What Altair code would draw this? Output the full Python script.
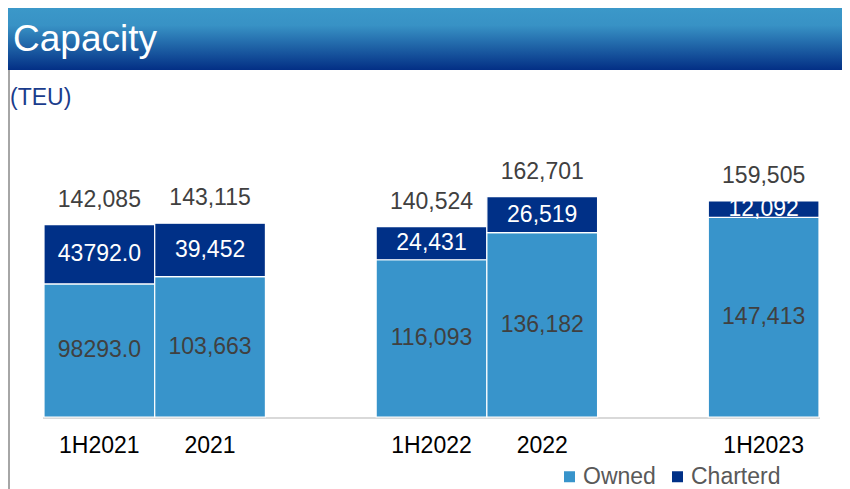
import altair as alt
import pandas as pd

# ---- data ----
slots = ["1H2021", "2021", "gap1", "1H2022", "2022", "gap2", "1H2023"]
categories = ["1H2021", "2021", "1H2022", "2022", "1H2023"]
owned = [98293, 103663, 116093, 136182, 147413]
chartered = [43792, 39452, 24431, 26519, 12092]
totals = [142085, 143115, 140524, 162701, 159505]
owned_labels = ["98293.0", "103,663", "116,093", "136,182", "147,413"]
chartered_labels = ["43792.0", "39,452", "24,431", "26,519", "12,092"]
total_labels = ["142,085", "143,115", "140,524", "162,701", "159,505"]
series = ["Owned", "Charterd"]
colors = ["#3894cb", "#003087"]
label_colors = ["#404040", "#ffffff"]

rows = []
for i, c in enumerate(categories):
    rows.append(dict(cat=c, series=series[0], start=0, end=owned[i],
                     mid=owned[i] / 2, label=owned_labels[i], lcolor=label_colors[0]))
    rows.append(dict(cat=c, series=series[1], start=owned[i], end=owned[i] + chartered[i],
                     mid=owned[i] + chartered[i] / 2, label=chartered_labels[i], lcolor=label_colors[1]))
seg = pd.DataFrame(rows)
tot = pd.DataFrame({"cat": categories, "total": totals, "label": total_labels})

FONT = "Liberation Sans"
W, H = 834, 409

yscale = alt.Scale(domain=[0, 302000], nice=False, zero=True)
X = alt.X(
    "cat:N",
    scale=alt.Scale(domain=slots, range=[36, 811], paddingInner=0, paddingOuter=0),
    sort=slots,
    axis=alt.Axis(values=categories, title=None, domain=False, ticks=False, tickSize=0,
                  grid=False, labelAngle=0, labelPadding=28, labelBaseline="middle",
                  labelFont=FONT, labelFontSize=23, labelColor="#000000"),
)

one = pd.DataFrame({"a": [0]})

banner = alt.Chart(one).mark_rect(
    fill=alt.Gradient(
        gradient="linear",
        stops=[alt.GradientStop(offset=0, color="#3b98c9"),
               alt.GradientStop(offset=0.28, color="#3892c5"),
               alt.GradientStop(offset=1, color="#032f85")],
        x1=0, x2=0, y1=0, y2=1)
).encode(x=alt.value(0), x2=alt.value(W), y=alt.value(0), y2=alt.value(62))

title = alt.Chart(one).mark_text(
    text="Capacity", font=FONT, fontSize=37, color="white", align="left", baseline="alphabetic"
).encode(x=alt.value(5), y=alt.value(43))

unit = alt.Chart(one).mark_text(
    text="(TEU)", font=FONT, fontSize=23, color="#1a3c8c", align="left", baseline="middle"
).encode(x=alt.value(2), y=alt.value(90))

border = alt.Chart(one).mark_rule(color="#a6a6a6", strokeWidth=2).encode(
    x=alt.value(1), y=alt.value(62), y2=alt.value(481))

baseline = alt.Chart(one).mark_rule(color="#d9d9d9", strokeWidth=2).encode(
    x=alt.value(35), x2=alt.value(812), y=alt.value(410))

bars = alt.Chart(seg).mark_bar(stroke="white", strokeWidth=1.2).encode(
    x=X,
    y=alt.Y("start:Q", scale=yscale, axis=None),
    y2="end:Q",
    color=alt.Color(
        "series:N",
        scale=alt.Scale(domain=series, range=colors),
        legend=alt.Legend(
            title=None, orient="none", legendX=550, legendY=457, direction="horizontal",
            symbolType="square", symbolSize=121, symbolStrokeWidth=0,
            labelFont=FONT, labelFontSize=23, labelColor="#595959",
            labelOffset=2, columnPadding=10, padding=0),
    ),
)

seg_text = alt.Chart(seg).mark_text(font=FONT, fontSize=23, baseline="middle").encode(
    x=X,
    y=alt.Y("mid:Q", scale=yscale, axis=None),
    text="label:N",
    color=alt.Color("lcolor:N", scale=None),
)

tot_text = alt.Chart(tot).mark_text(font=FONT, fontSize=23, baseline="middle", dy=-25,
                                    color="#404040").encode(
    x=X,
    y=alt.Y("total:Q", scale=yscale, axis=None),
    text="label:N",
)

chart = alt.layer(banner, title, unit, border, baseline, bars, seg_text, tot_text).properties(
    width=W, height=H,
    padding={"left": 0, "top": 0, "right": 0, "bottom": 72},
    autosize="none",
).configure_view(stroke=None)

chart.save("out.html", embed_options={"renderer": "svg", "actions": False})
